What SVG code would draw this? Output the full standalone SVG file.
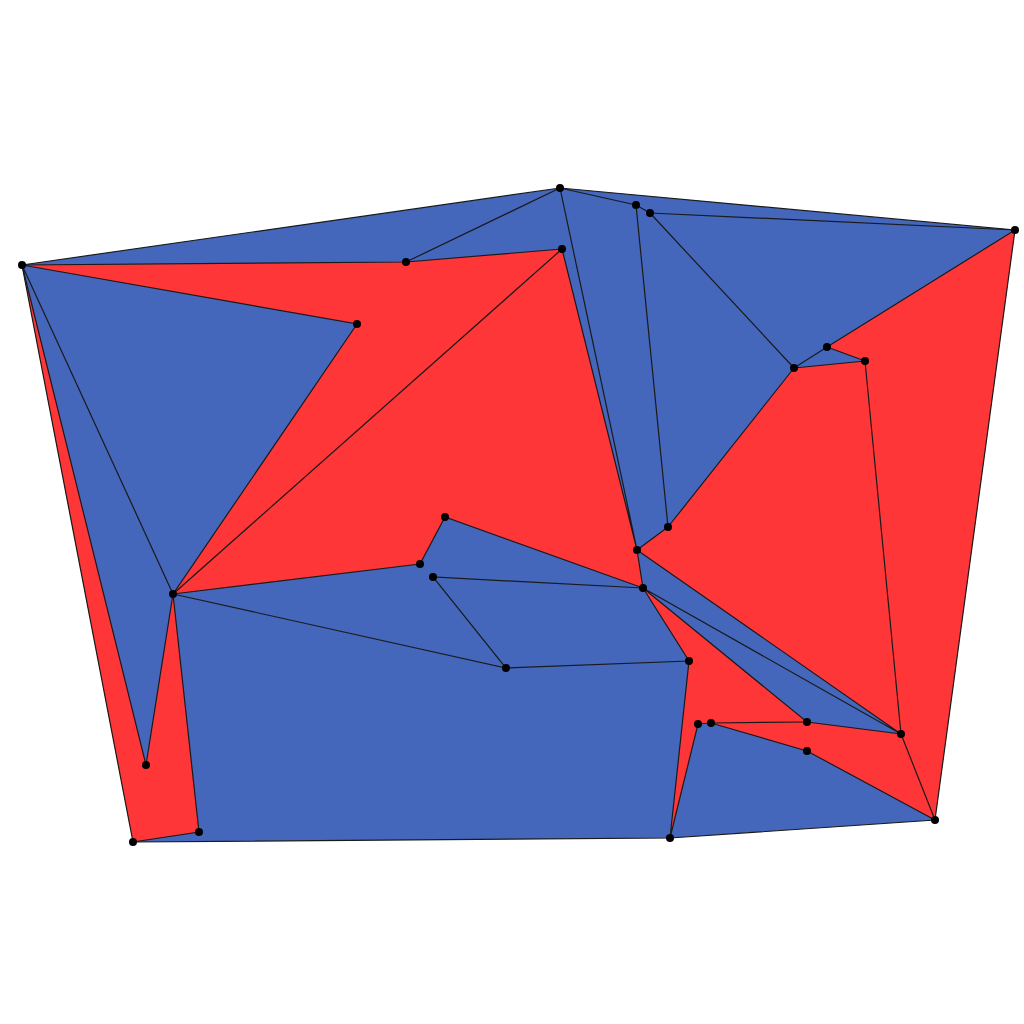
<svg xmlns="http://www.w3.org/2000/svg" width="1024" height="1024" viewBox="0 0 1024 1024">
<style>
.blue{fill:#4467bb;stroke:none}
.red{fill:#fe3637;stroke:none}
.e{stroke:#1a1a1a;stroke-width:1.2;fill:none}
.n{fill:#000}
</style>
<rect width="1024" height="1024" fill="#fff"/>
<g id="faces">
<polygon class="blue" points="22,265 560,188 1015,230 935,820 670,838 133,842"/>
<polygon class="red" points="22,265 146,765 173,594 199,832 133,842"/>
<polygon class="red" points="22,265 406,262 562,249 637,550 643,588 445,517 420,564 173,594 357,324 22,265"/>
<polygon class="red" points="668,527 794,368 865,361 901,734 637,550"/>
<polygon class="red" points="827,347 1015,230 935,820 901,734 865,361"/>
<polygon class="red" points="643,588 807,722 901,734 935,820 807,751 711,723 698,724 670,838 689,661"/>
</g>
<g id="connectors" class="e">
<path d="M22,265L560,188L1015,230L935,820L670,838L133,842Z"/>
<path d="M22,265L406,262L560,188M406,262L562,249M22,265L357,324L173,594L22,265M22,265L146,765L173,594L199,832L133,842"/>
<path d="M173,594L562,249M173,594L420,564L445,517L643,588M562,249L637,550M560,188L637,550M637,550L643,588"/>
<path d="M560,188L636,205L650,213L1015,230M636,205L668,527M650,213L794,368M668,527L794,368M637,550L668,527"/>
<path d="M794,368L827,347L1015,230M827,347L865,361L794,368M865,361L901,734M637,550L901,734M643,588L901,734M643,588L807,722L901,734L935,820"/>
<path d="M173,594L506,668L433,577L643,588M506,668L689,661L643,588M689,661L670,838L698,724L711,723L807,722M711,723L807,751L935,820"/>
</g>
<g id="nodes" class="n">
<circle id="n1" cx="22" cy="265" r="4"/>
<circle id="n2" cx="560" cy="188" r="4"/>
<circle id="n3" cx="636" cy="205" r="4"/>
<circle id="n4" cx="650" cy="213" r="4"/>
<circle id="n5" cx="1015" cy="230" r="4"/>
<circle id="n6" cx="406" cy="262" r="4"/>
<circle id="n7" cx="562" cy="249" r="4"/>
<circle id="n8" cx="357" cy="324" r="4"/>
<circle id="n9" cx="827" cy="347" r="4"/>
<circle id="n10" cx="865" cy="361" r="4"/>
<circle id="n11" cx="794" cy="368" r="4"/>
<circle id="n12" cx="445" cy="517" r="4"/>
<circle id="n13" cx="668" cy="527" r="4"/>
<circle id="n14" cx="637" cy="550" r="4"/>
<circle id="n15" cx="420" cy="564" r="4"/>
<circle id="n16" cx="433" cy="577" r="4"/>
<circle id="n17" cx="173" cy="594" r="4"/>
<circle id="n18" cx="643" cy="588" r="4"/>
<circle id="n19" cx="689" cy="661" r="4"/>
<circle id="n20" cx="506" cy="668" r="4"/>
<circle id="n21" cx="698" cy="724" r="4"/>
<circle id="n22" cx="711" cy="723" r="4"/>
<circle id="n23" cx="807" cy="722" r="4"/>
<circle id="n24" cx="901" cy="734" r="4"/>
<circle id="n25" cx="807" cy="751" r="4"/>
<circle id="n26" cx="146" cy="765" r="4"/>
<circle id="n27" cx="935" cy="820" r="4"/>
<circle id="n28" cx="199" cy="832" r="4"/>
<circle id="n29" cx="133" cy="842" r="4"/>
<circle id="n30" cx="670" cy="838" r="4"/>
</g>
</svg>
